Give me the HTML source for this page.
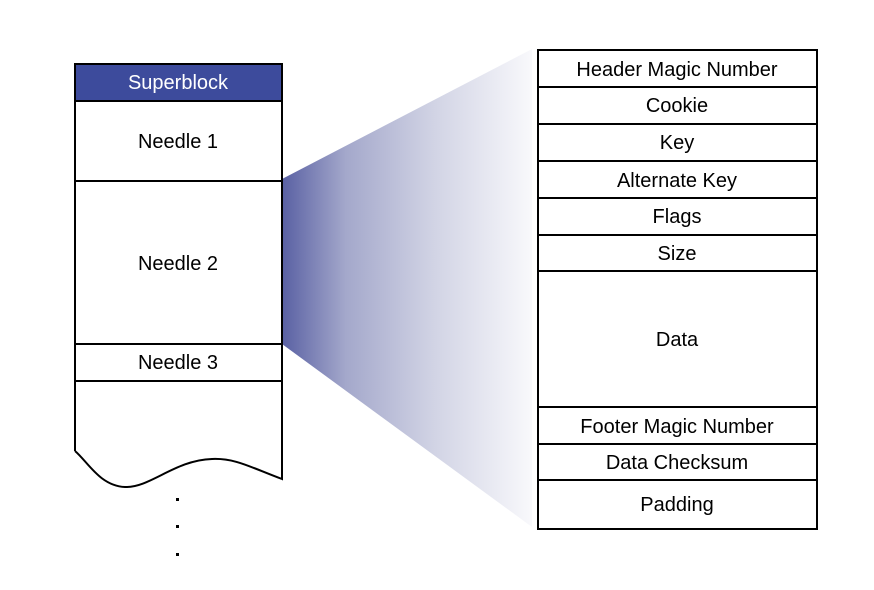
<!DOCTYPE html>
<html><head><style>body{margin:0;background:#fff}svg{display:block}</style></head><body>
<svg width="874" height="590" viewBox="0 0 874 590" xmlns="http://www.w3.org/2000/svg" font-family="Liberation Sans, Arial, sans-serif" font-size="20">
<defs><linearGradient id="g" x1="282" y1="0" x2="538" y2="0" gradientUnits="userSpaceOnUse">
<stop offset="0" stop-color="#5960a3"/><stop offset="0.25" stop-color="#a4a8cb"/><stop offset="0.6" stop-color="#d2d4e5"/><stop offset="1" stop-color="#fbfbfd"/></linearGradient></defs>
<polygon points="282,179 532,49 532,527 282,344" fill="url(#g)"/>
<rect x="75" y="64" width="207" height="37" fill="#3d4b9c"/>
<path d="M75,451 L75,64 L282,64 L282,479 C250,467 235,458 212,459 C175,460 150,488 125,487 C100,486 88,462 75,451" fill="none" stroke="#000" stroke-width="2"/>
<g stroke="#000" stroke-width="2"><line x1="75" y1="101" x2="282" y2="101"/><line x1="75" y1="181" x2="282" y2="181"/><line x1="75" y1="344" x2="282" y2="344"/><line x1="75" y1="381" x2="282" y2="381"/></g>
<g fill="#000"><rect x="176" y="498" width="3" height="3"/><rect x="176" y="525" width="3" height="3"/><rect x="176" y="553" width="3" height="3"/></g>
<g text-anchor="middle">
<text x="178" y="89" fill="#fff">Superblock</text>
<text x="178" y="148">Needle 1</text>
<text x="178" y="270">Needle 2</text>
<text x="178" y="369">Needle 3</text>
</g>
<rect x="538" y="50" width="279" height="479" fill="#fff" stroke="#000" stroke-width="2"/>
<g stroke="#000" stroke-width="2">
<line x1="538" y1="87" x2="817" y2="87"/><line x1="538" y1="124" x2="817" y2="124"/><line x1="538" y1="161" x2="817" y2="161"/><line x1="538" y1="198" x2="817" y2="198"/><line x1="538" y1="235" x2="817" y2="235"/><line x1="538" y1="271" x2="817" y2="271"/><line x1="538" y1="407" x2="817" y2="407"/><line x1="538" y1="444" x2="817" y2="444"/><line x1="538" y1="480" x2="817" y2="480"/>
</g>
<g text-anchor="middle">
<text x="677" y="76">Header Magic Number</text>
<text x="677" y="112">Cookie</text>
<text x="677" y="149">Key</text>
<text x="677" y="187">Alternate Key</text>
<text x="677" y="223">Flags</text>
<text x="677" y="260">Size</text>
<text x="677" y="346">Data</text>
<text x="677" y="433">Footer Magic Number</text>
<text x="677" y="469">Data Checksum</text>
<text x="677" y="511">Padding</text>
</g>
</svg>
</body></html>
